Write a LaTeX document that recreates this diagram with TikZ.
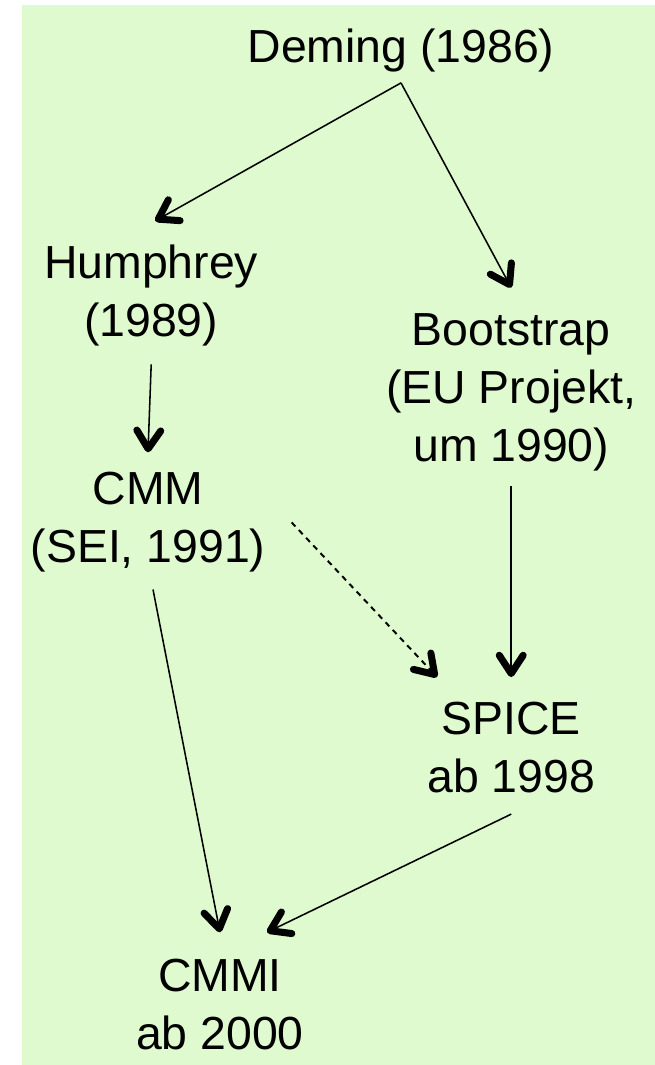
\documentclass[tikz,border=0pt]{standalone}
\usepackage{fontspec}
\setmainfont{Liberation Sans}
\usetikzlibrary{arrows.meta}
\definecolor{bggreen}{RGB}{224,250,208}
\begin{document}
\begin{tikzpicture}
    % Define styles
    \tikzset{
        stagenode/.style={inner sep=0pt, align=center, font=\fontsize{33pt}{41pt}\selectfont},
        flowarrow/.style={line width=1.1pt, arrows={-Straight Barb[length=13pt, width=17pt, line width=5pt, round]}},
        influencearrow/.style={flowarrow, line width=1.4pt, dash pattern=on 4pt off 3.5pt}
    }

    % Background
    \useasboundingbox (0,0) rectangle (16.375,-26.625);
    \fill[bggreen] (0.55,-0.125) rectangle (16.375,-26.625);

    % Stages
    \node[stagenode] (deming) at (10.025,-1.275) {Deming (1986)};
    \node[stagenode] (humphrey) at (3.78,-7.39) {Humphrey\\(1989)};
    \node[stagenode] (bootstrap) at (12.78,-9.81) {Bootstrap\\(EU Projekt,\\um 1990)};
    \node[stagenode] (cmm) at (3.7,-13.06) {CMM\\(SEI, 1991)};
    \node[stagenode] (spice) at (12.78,-18.69) {SPICE\\ab 1998};
    \node[stagenode] (cmmi) at (5.5,-25.12) {CMMI\\ab 2000};

    % Arrows from Deming
    \draw[flowarrow] ([yshift=-0.25cm]deming.south) -- ([xshift=0.1cm,yshift=0.6cm]humphrey.north);
    \draw[flowarrow] ([yshift=-0.25cm]deming.south) -- ([yshift=0.65cm]bootstrap.north);

    % Left branch
    \draw[flowarrow] ([yshift=-0.45cm]humphrey.south) -- ([yshift=0.5cm]cmm.north);
    \draw[flowarrow] ([xshift=0.125cm,yshift=-0.425cm]cmm.south) -- ([yshift=0.675cm]cmmi.north);

    % Right branch
    \draw[flowarrow] ([yshift=-0.375cm]bootstrap.south) -- ([yshift=0.625cm]spice.north);
    \draw[flowarrow] ([yshift=-0.525cm]spice.south) -- ([xshift=1.175cm,yshift=0.675cm]cmmi.north);

    % CMM influence on SPICE
    \draw[influencearrow] ([xshift=0.65cm]cmm.east) -- ([xshift=0.25cm,yshift=0.625cm]spice.north west);

\end{tikzpicture}
\end{document}
